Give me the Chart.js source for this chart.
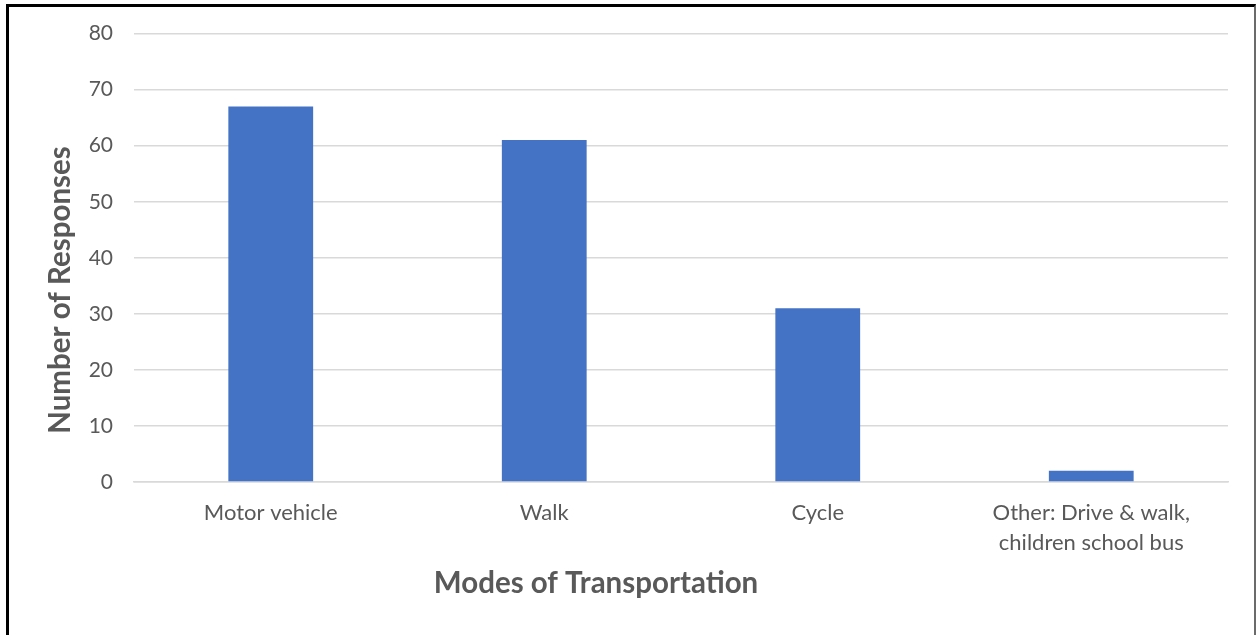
<!DOCTYPE html>
<html>
<head>
<meta charset="utf-8">
<script src="https://cdn.jsdelivr.net/npm/chart.js@4.4.1/dist/chart.umd.min.js"></script>
<style>
  html, body { margin: 0; padding: 0; background: #fff; }
  #wrap { position: relative; width: 1257px; height: 635px; }
  #frame {
    position: absolute; left: 6px; top: 4px; right: 1px; bottom: -4px;
    border-left: 3px solid #000; border-top: 3px solid #000; border-right: 2px solid #6b6b6b;
    pointer-events: none;
  }
</style>
</head>
<body>
<div id="wrap">
  <canvas id="chart"></canvas>
  <div id="frame"></div>
</div>
<script>
const categories = ["Motor vehicle", "Walk", "Cycle", ["Other: Drive & walk,", "children school bus"]];
const responses = [67, 61, 31, 2];
const yTicks = [0, 10, 20, 30, 40, 50, 60, 70, 80];
const xTitle = "Modes of Transportation";
const yTitle = "Number of Responses";

const textColor = "#595959";
const gridColor = "#d9d9d9";
const fontFamily = "Lato, 'Open Sans', sans-serif";

// the axis titles in the original sit off-centre, so draw them by hand
const axisTitles = {
  id: "axisTitles",
  afterDraw(chart) {
    const c = chart.ctx;
    c.save();
    c.fillStyle = textColor;
    c.font = `bold 29.5px ${fontFamily}`;
    c.textAlign = "center";
    c.textBaseline = "middle";
    c.fillText(xTitle, 596, 583);
    c.translate(60, 290);
    c.rotate(-Math.PI / 2);
    c.fillText(yTitle, 0, 0);
    c.restore();
  },
};

const ctx = document.getElementById("chart").getContext("2d");

new Chart(ctx, {
  type: "bar",
  data: {
    labels: categories,
    datasets: [
      {
        label: "Number of Responses",
        data: responses,
        backgroundColor: "#4472c4",
        barPercentage: 0.31,
        categoryPercentage: 1,
      },
    ],
  },
  options: {
    responsive: true,
    maintainAspectRatio: false,
    animation: false,
    layout: {
      padding: { left: 0, right: 29, top: 33, bottom: 0 },
    },
    plugins: {
      legend: { display: false },
      tooltip: { enabled: false },
    },
    scales: {
      x: {
        grid: { display: false, drawTicks: false },
        border: { color: gridColor, width: 1.5 },
        ticks: {
          color: textColor,
          font: { family: fontFamily, size: 22, lineHeight: 1.36 },
          padding: 16,
          maxRotation: 0,
          autoSkip: false,
        },
        afterFit: (scale) => { scale.height = 153; },
      },
      y: {
        min: 0,
        max: 80,
        afterBuildTicks: (scale) => {
          scale.ticks = yTicks.map((v) => ({ value: v }));
        },
        grid: { color: gridColor, lineWidth: 1.5, drawTicks: false },
        border: { display: false },
        ticks: {
          color: textColor,
          font: { family: fontFamily, size: 21 },
          padding: 21,
        },
        afterFit: (scale) => { scale.width = 134; },
      },
    },
  },
  plugins: [axisTitles],
});
</script>
</body>
</html>
